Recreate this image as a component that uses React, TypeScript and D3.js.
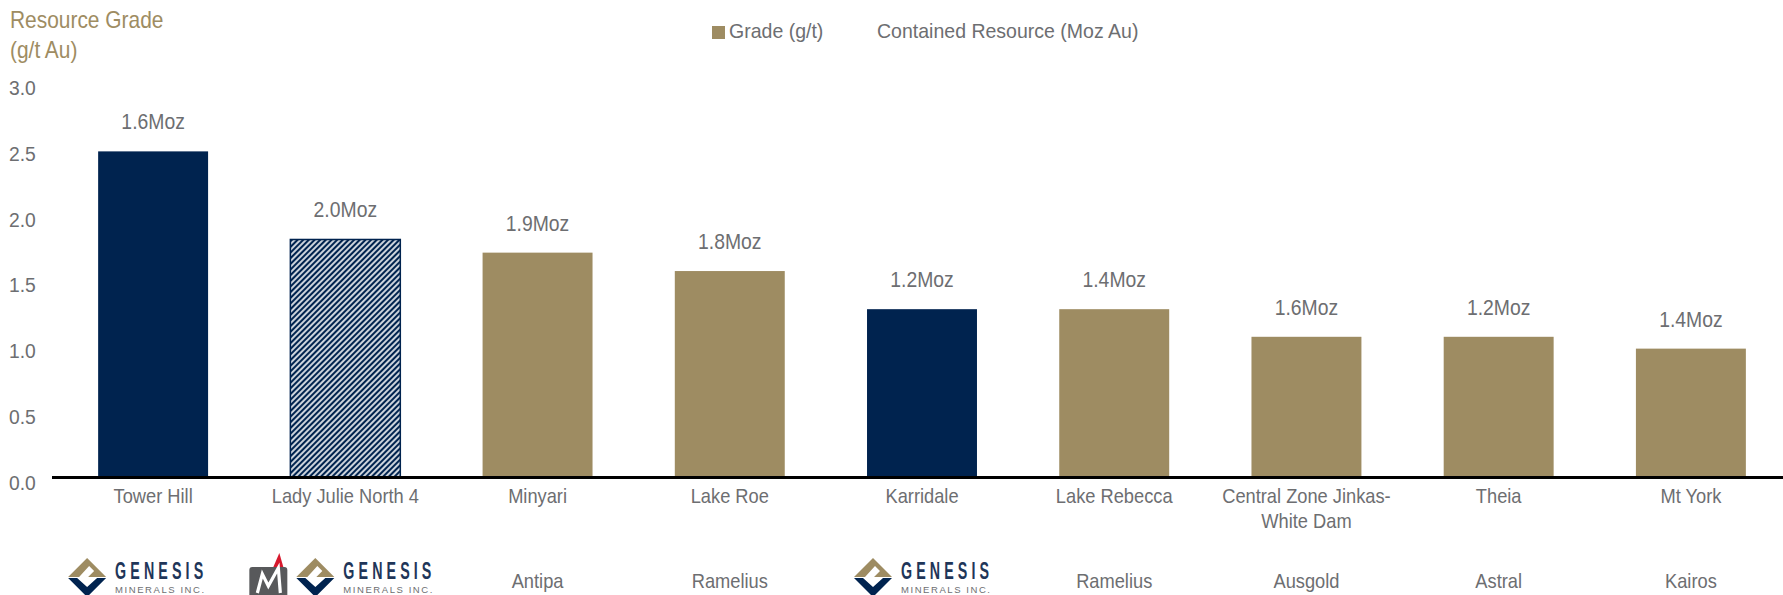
import React from "react";
import * as d3 from "d3";

// data
const projects = [
  "Tower Hill",
  "Lady Julie North 4",
  "Minyari",
  "Lake Roe",
  "Karridale",
  "Lake Rebecca",
  "Central Zone Jinkas-|White Dam",
  "Theia",
  "Mt York",
];
const grade = [2.48, 1.81, 1.71, 1.57, 1.28, 1.28, 1.07, 1.07, 0.98];
const containedMoz = [1.6, 2.0, 1.9, 1.8, 1.2, 1.4, 1.6, 1.2, 1.4];
const owners = [
  "GENESIS",
  "MAGNETIC+GENESIS",
  "Antipa",
  "Ramelius",
  "GENESIS",
  "Ramelius",
  "Ausgold",
  "Astral",
  "Kairos",
];
const barStyle = ["navy", "hatch", "gold", "gold", "navy", "gold", "gold", "gold", "gold"];
const yTicks = [0, 0.5, 1, 1.5, 2, 2.5, 3];

const W = 1783;
const H = 595;
const GOLD = "#9e8c62";
const NAVY = "#00234f";
const GREY = "#6d6e71";
const FONT = "'Liberation Sans', Arial, sans-serif";

const x = d3
  .scaleBand<string>()
  .domain(projects)
  .range([57, 1787])
  .paddingInner(0.428)
  .paddingOuter(0.214);
const y = d3.scaleLinear().domain([0, 3]).range([477.5, 83]);
const fmt = d3.format(".1f");

function T({
  px,
  py,
  sx = 0.88,
  size = 21,
  anchor = "middle",
  fill = GREY,
  children,
}: {
  px: number;
  py: number;
  sx?: number;
  size?: number;
  anchor?: string;
  fill?: string;
  children: React.ReactNode;
}) {
  return (
    <text
      transform={`translate(${px},${py}) scale(${sx},1)`}
      textAnchor={anchor}
      fontSize={size}
      fill={fill}
      fontFamily={FONT}
    >
      {children}
    </text>
  );
}

// genesis minerals logo, x0 = left edge
function GenesisLogo({ x0 }: { x0: number }) {
  const cx = x0 + 19;
  const cy = 577;
  return (
    <g>
      <polygon points={`${x0},${cy} ${cx},${cy - 19} ${x0 + 38},${cy}`} fill={GOLD} />
      <polygon
        points={`${x0 + 11},${cy} ${cx + 2},${cy - 11} ${cx + 7},${cy - 6} ${cx + 1},${cy} ${cx + 6},${cy}`}
        fill="#fff"
      />
      <polygon
        points={`${x0},${cy + 1} ${cx},${cy + 20} ${x0 + 38},${cy + 1} ${x0 + 29},${cy + 1} ${cx},${cy + 10} ${x0 + 9},${cy + 1}`}
        fill={NAVY}
      />
      <text
        transform={`translate(${x0 + 47},579) scale(0.62,1)`}
        fontSize={23}
        fontWeight="bold"
        fill="#1f3659"
        fontFamily={FONT}
        textLength={142}
        lengthAdjust="spacing"
      >
        GENESIS
      </text>
      <text
        x={x0 + 47}
        y={593}
        fontSize={9.5}
        fill={GREY}
        fontFamily={FONT}
        textLength={89}
        lengthAdjust="spacing"
      >
        MINERALS INC.
      </text>
    </g>
  );
}

function MagneticLogo({ x0 }: { x0: number }) {
  return (
    <g>
      <rect x={x0} y={567} width={38} height={40} rx={3} fill="#58595b" />
      <polygon points={`${x0 + 24},567 ${x0 + 30},553 ${x0 + 34},567`} fill="#d7192d" />
      <polyline
        points={`${x0 + 8},593 ${x0 + 13},574 ${x0 + 19},586 ${x0 + 29},568 ${x0 + 31},593`}
        fill="none"
        stroke="#fff"
        strokeWidth={3.2}
        strokeLinejoin="miter"
      />
    </g>
  );
}

export default function App() {
  return (
    <svg
      width={W}
      height={H}
      style={{ position: "absolute", left: 0, top: 0, background: "#fff" }}
    >
      <defs>
        <pattern
          id="hatch"
          patternUnits="userSpaceOnUse"
          width={4}
          height={4}
          patternTransform="rotate(45)"
        >
          <rect width={4} height={4} fill={NAVY} />
          <line x1={2} y1={0} x2={2} y2={4} stroke="#fff" strokeWidth={1.6} />
        </pattern>
      </defs>

      {/* axis title */}
      <T px={10} py={28} size={23} sx={0.91} anchor="start" fill={GOLD}>
        Resource Grade
      </T>
      <T px={10} py={58} size={23} sx={0.91} anchor="start" fill={GOLD}>
        (g/t Au)
      </T>

      {/* legend */}
      <rect x={712} y={26} width={13} height={13} fill={GOLD} />
      <T px={729} py={38} anchor="start" sx={0.93}>
        Grade (g/t)
      </T>
      <T px={877} py={38} anchor="start" sx={0.93}>
        Contained Resource (Moz Au)
      </T>

      {/* y ticks */}
      {yTicks.map((t) => (
        <T key={t} px={9} py={y(t) + 12} anchor="start" sx={0.92}>
          {fmt(t)}
        </T>
      ))}

      {/* bars */}
      {projects.map((p, i) => {
        const bx = x(p)!;
        const top = y(grade[i]);
        const s = barStyle[i];
        return (
          <g key={p}>
            <rect
              x={bx}
              y={top}
              width={x.bandwidth()}
              height={y(0) - top}
              fill={s === "navy" ? NAVY : s === "gold" ? GOLD : "url(#hatch)"}
              stroke={s === "hatch" ? NAVY : "none"}
              strokeWidth={1.5}
            />
            <T px={bx + x.bandwidth() / 2} py={top - 22} size={22} sx={0.88}>
              {fmt(containedMoz[i])}Moz
            </T>
          </g>
        );
      })}

      {/* axis line */}
      <line x1={52} x2={W} y1={y(0)} y2={y(0)} stroke="#000" strokeWidth={2.8} />

      {/* category labels + owners */}
      {projects.map((p, i) => {
        const cx = x(p)! + x.bandwidth() / 2;
        const lines = p.split("|");
        const o = owners[i];
        return (
          <g key={p + "-lab"}>
            {lines.map((l, j) => (
              <T key={j} px={cx} py={503 + j * 25} sx={0.87}>
                {l}
              </T>
            ))}
            {o === "GENESIS" ? (
              <GenesisLogo x0={cx - (i === 0 ? 85 : 68)} />
            ) : o === "MAGNETIC+GENESIS" ? (
              <g>
                <MagneticLogo x0={cx - 96} />
                <GenesisLogo x0={cx - 49} />
              </g>
            ) : (
              <T px={cx} py={588} sx={0.87}>
                {o}
              </T>
            )}
          </g>
        );
      })}
    </svg>
  );
}
